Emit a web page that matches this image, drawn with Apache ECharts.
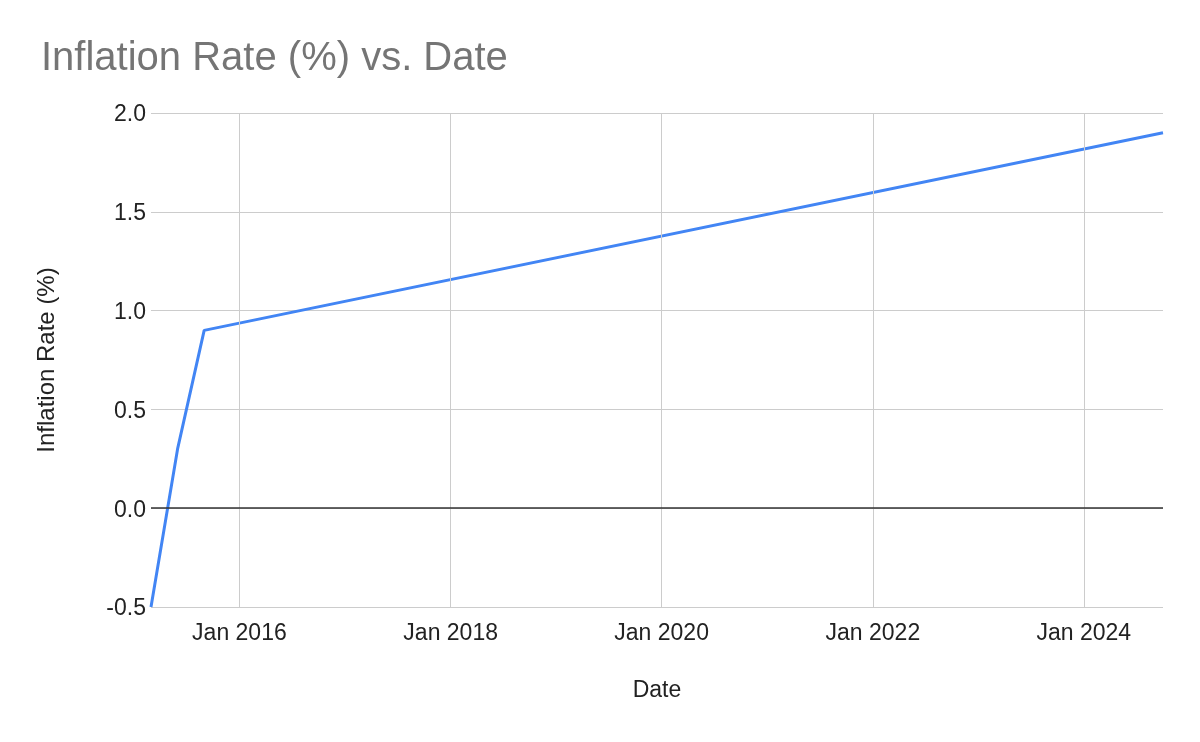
<!DOCTYPE html>
<html>
<head>
<meta charset="utf-8">
<script src="https://cdn.jsdelivr.net/npm/echarts@6/dist/echarts.min.js"></script>
<style>
html,body{margin:0;padding:0;background:#fff;}
#chart{width:1200px;height:742px;}
</style>
</head>
<body>
<div id="chart"></div>
<script>
// Data
const dates = ['2015-03-01', '2015-06-01', '2015-09-01', '2024-10-01'];
const inflationRate = [-0.5, 0.3, 0.9, 1.9];
const tickDates = ['2016-01-01', '2018-01-01', '2020-01-01', '2022-01-01', '2024-01-01'];
const tickLabels = ['Jan 2016', 'Jan 2018', 'Jan 2020', 'Jan 2022', 'Jan 2024'];
const yTicks = [-0.5, 0.0, 0.5, 1.0, 1.5, 2.0];

function ts(s) {
  const p = s.split('-').map(Number);
  return Date.UTC(p[0], p[1] - 1, p[2]);
}
const tickTs = tickDates.map(ts);
const seriesData = dates.map((d, i) => [ts(d), inflationRate[i]]);

const FONT = "'Liberation Sans', Arial, sans-serif";
const chart = echarts.init(document.getElementById('chart'), null, {renderer: 'canvas'});
chart.setOption({
  animation: false,
  backgroundColor: '#ffffff',
  title: {
    text: 'Inflation Rate (%) vs. Date',
    left: 36,
    top: 34,
    textStyle: {fontFamily: FONT, fontSize: 40, fontWeight: 'normal', color: '#757575'}
  },
  grid: {left: 151, right: 37, top: 113, bottom: 135, containLabel: false},
  xAxis: {
    type: 'value',
    min: ts(dates[0]),
    max: ts(dates[dates.length - 1]),
    scale: true,
    name: 'Date',
    nameLocation: 'middle',
    nameGap: 72,
    nameTextStyle: {fontFamily: FONT, fontSize: 23, color: '#222'},
    axisLine: {show: false},
    axisTick: {show: false},
    splitLine: {show: false},
    axisLabel: {
      customValues: tickTs,
      margin: 15,
      fontFamily: FONT,
      fontSize: 23,
      color: '#222',
      showMinLabel: true,
      showMaxLabel: true,
      hideOverlap: false,
      formatter: function (v) {
        const i = tickTs.indexOf(v);
        return i >= 0 ? tickLabels[i] : '';
      }
    }
  },
  yAxis: {
    type: 'value',
    min: yTicks[0],
    max: yTicks[yTicks.length - 1],
    interval: 0.5,
    name: 'Inflation Rate (%)',
    nameLocation: 'middle',
    nameGap: 92,
    nameTextStyle: {fontFamily: FONT, fontSize: 24, color: '#222'},
    axisLine: {show: false},
    axisTick: {show: false},
    splitLine: {show: true, lineStyle: {color: '#cccccc', width: 1}},
    axisLabel: {
      margin: 5,
      fontFamily: FONT,
      fontSize: 23,
      color: '#222',
      formatter: function (v) { return '{v|' + v.toFixed(1) + '}'; },
      rich: {
        v: {fontFamily: FONT, fontSize: 23, color: '#222', padding: [4, 0, 0, 0]}
      }
    }
  },
  series: [
    {
      type: 'line',
      data: [],
      z: 1,
      silent: true,
      markLine: {
        silent: true,
        symbol: 'none',
        animation: false,
        label: {show: false},
        data: tickTs.map(t => ({xAxis: t, lineStyle: {color: '#cccccc', width: 1, type: 'solid'}}))
          .concat([{yAxis: 0, lineStyle: {color: '#333333', width: 1.5, type: 'solid'}}])
      }
    },
    {
      type: 'line',
      name: 'Inflation Rate (%)',
      data: seriesData,
      z: 3,
      showSymbol: false,
      symbol: 'none',
      lineStyle: {color: '#4285f4', width: 3},
      itemStyle: {color: '#4285f4'}
    }
  ]
});
</script>
</body>
</html>
